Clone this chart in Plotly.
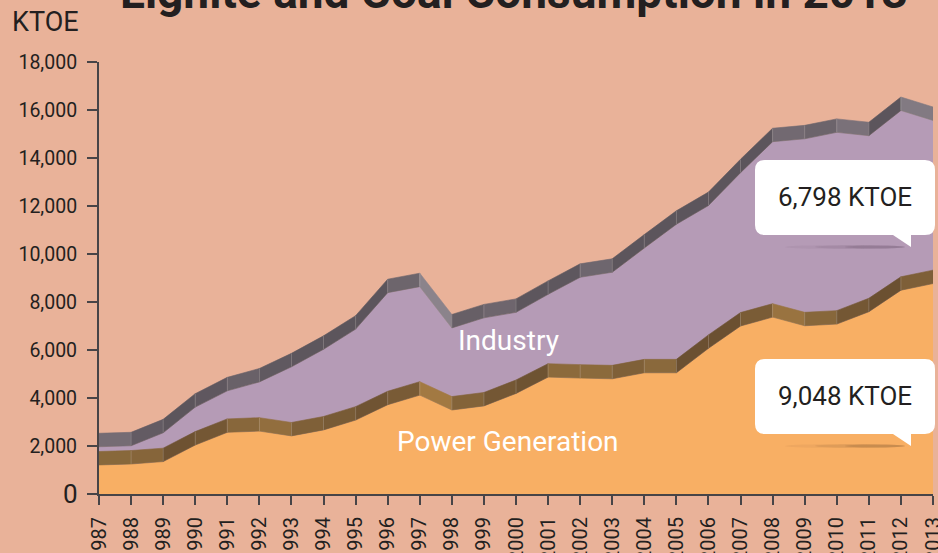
import math
import plotly.graph_objects as go

# ---------------- data ----------------
years = list(range(1987, 2014))
power = [1490, 1530, 1630, 2320, 2850, 2900, 2700, 2950, 3360, 4000, 4400, 3780, 3950,
         4470, 5150, 5110, 5080, 5330, 5330, 6350, 7280, 7650, 7290, 7360, 7875, 8770, 9048]
industry = [760, 760, 1200, 1580, 1730, 2050, 2880, 3360, 3790, 4670, 4520, 3420, 3670,
            3380, 3450, 4200, 4440, 5200, 6190, 5950, 6390, 7310, 7790, 7990, 7335, 7490, 6798]
series_names = ["Power Generation", "Industry"]
y_ticks = [0, 2000, 4000, 6000, 8000, 10000, 12000, 14000, 16000, 18000]
title_text = "Lignite and Coal Consumption in 2013"
unit = "KTOE"

total = [p + i for p, i in zip(power, industry)]

# ---------------- style ----------------
BG = "#E9B299"
ORANGE = "#F8AF64"
PURPLE = "#B59BB6"
AXIS = "#474447"
TXT = "#231F20"
FONT = "Roboto"
H = 280  # half thickness of the 3D ribbon (value units)

PX_X = 834 / 26.0
PX_Y = 432 / 18000.0


def hex2rgb(h):
    h = h.lstrip("#")
    return [int(h[i:i + 2], 16) for i in (0, 2, 4)]


def mix(a, b, t):
    ra, rb = hex2rgb(a), hex2rgb(b)
    return "rgb(%d,%d,%d)" % tuple(round(x + (y - x) * t) for x, y in zip(ra, rb))


def shade(v0, v1, dark, flat, light):
    ang = math.degrees(math.atan2((v1 - v0) * PX_Y, PX_X))
    t = max(-1.0, min(1.0, ang / 30.0))
    if t >= 0:
        return mix(flat, dark, t)
    return mix(flat, light, -t)


fig = go.Figure()

# orange base area
fig.add_trace(go.Scatter(x=years, y=[p - H for p in power], mode="lines",
                         line=dict(width=0, color=ORANGE), fill="tozeroy",
                         fillcolor=ORANGE, hoverinfo="skip", showlegend=False))
# purple area
fig.add_trace(go.Scatter(x=years, y=[t - H for t in total], mode="lines",
                         line=dict(width=0, color=PURPLE), fill="tonexty",
                         fillcolor=PURPLE, hoverinfo="skip", showlegend=False))


def ribbon(vals, dark, flat, light):
    for i in range(len(years) - 1):
        c = shade(vals[i], vals[i + 1], dark, flat, light)
        xs = [years[i], years[i + 1], years[i + 1], years[i], years[i]]
        ys = [vals[i] + H, vals[i + 1] + H, vals[i + 1] - H, vals[i] - H, vals[i] + H]
        fig.add_trace(go.Scatter(x=xs, y=ys, mode="lines", fill="toself",
                                 fillcolor=c, line=dict(width=0.6, color=c),
                                 hoverinfo="skip", showlegend=False))
    # light seams between facets
    sx, sy = [], []
    for i in range(1, len(years) - 1):
        sx += [years[i], years[i], None]
        sy += [vals[i] + H, vals[i] - H, None]
    fig.add_trace(go.Scatter(x=sx, y=sy, mode="lines",
                             line=dict(width=1, color="rgba(255,255,255,0.18)"),
                             hoverinfo="skip", showlegend=False))


ribbon(power, "#6B5031", "#8A693C", "#A77C43")
ribbon(total, "#5C555C", "#766D75", "#8B838B")

# ---------------- annotations ----------------
ann = []
# title (partly cut at the top)
ann.append(dict(text="<b>%s</b>" % title_text, xref="paper", yref="paper",
                x=(514 - 99) / 834, y=(494 - 21) / 432, xanchor="center", yanchor="bottom",
                showarrow=False, font=dict(family=FONT, size=46, color=TXT)))
# unit label
ann.append(dict(text=unit, xref="paper", yref="paper", x=(10 - 99) / 834,
                y=(494 - 22) / 432, xanchor="left", yanchor="middle", showarrow=False,
                font=dict(family=FONT, size=27, color=TXT)))
# bigger zero label
ann.append(dict(text="0", xref="paper", yref="y", x=(80 - 99) / 834, y=0,
                xanchor="right", yanchor="middle", showarrow=False,
                font=dict(family=FONT, size=26, color=TXT)))
# series labels
ann.append(dict(text=series_names[1], xref="paper", yref="paper", x=(508 - 99) / 834,
                y=(494 - 341) / 432, xanchor="center", yanchor="middle", showarrow=False,
                font=dict(family=FONT, size=28, color="white")))
ann.append(dict(text=series_names[0], xref="paper", yref="paper", x=(508 - 99) / 834,
                y=(494 - 441) / 432, xanchor="center", yanchor="middle", showarrow=False,
                font=dict(family=FONT, size=28, color="white")))

shapes = []


def px(xp):
    return (xp - 99) / 834


def py(yp):
    return (494 - yp) / 432


def callout(x0, y0, x1, y1, tail_x0, tail_x1, tail_y, text, shadow_col):
    r = 10
    p = []
    p.append("M %f,%f" % (px(x0 + r), py(y0)))
    p.append("L %f,%f" % (px(x1 - r), py(y0)))
    p.append("Q %f,%f %f,%f" % (px(x1), py(y0), px(x1), py(y0 + r)))
    p.append("L %f,%f" % (px(x1), py(y1 - r)))
    p.append("Q %f,%f %f,%f" % (px(x1), py(y1), px(x1 - r), py(y1)))
    p.append("L %f,%f" % (px(tail_x1), py(y1)))
    p.append("L %f,%f" % (px(tail_x1), py(tail_y)))
    p.append("L %f,%f" % (px(tail_x0), py(y1)))
    p.append("L %f,%f" % (px(x0 + r), py(y1)))
    p.append("Q %f,%f %f,%f" % (px(x0), py(y1), px(x0), py(y1 - r)))
    p.append("L %f,%f" % (px(x0), py(y0 + r)))
    p.append("Q %f,%f %f,%f Z" % (px(x0), py(y0), px(x0 + r), py(y0)))
    # soft shadow
    for w, hgt, op in [(120, 4, 0.06), (90, 3.5, 0.10), (60, 3, 0.16)]:
        shapes.append(dict(type="circle", xref="paper", yref="paper",
                           x0=px(tail_x1 - 6 - w), x1=px(tail_x1 - 6), y0=py(tail_y + hgt / 2),
                           y1=py(tail_y - hgt / 2), fillcolor=shadow_col, opacity=op,
                           line=dict(width=0), layer="above"))
    shapes.append(dict(type="path", xref="paper", yref="paper", path=" ".join(p),
                       fillcolor="white", line=dict(width=0), layer="above"))
    ann.append(dict(text=text, xref="paper", yref="paper", x=px((x0 + x1) / 2),
                    y=py((y0 + y1) / 2 - 1), xanchor="center", yanchor="middle",
                    showarrow=False, font=dict(family=FONT, size=26, color=TXT)))


callout(755, 160, 935, 235, 893, 911, 247, "%s %s" % (format(industry[-1], ","), unit), "#4A3A4A")
callout(755, 359, 935, 434, 893, 911, 446, "%s %s" % (format(power[-1], ","), unit), "#5A3A20")

fig.update_layout(
    width=938, height=553,
    paper_bgcolor=BG, plot_bgcolor=BG,
    margin=dict(l=99, r=5, t=62, b=59, autoexpand=False),
    showlegend=False,
    annotations=ann,
    shapes=shapes,
    font=dict(family=FONT, color=TXT),
    xaxis=dict(range=[1987, 2013], tickmode="array", tickvals=years,
               ticktext=[str(y) for y in years], tickangle=-90, automargin=False,
               ticklabeloverflow="allow", ticklabelstandoff=4,
               ticks="outside", ticklen=9, tickwidth=2, tickcolor=AXIS,
               showline=True, linecolor=AXIS, linewidth=2, showgrid=False,
               zeroline=False, tickfont=dict(family=FONT, size=20, color=TXT)),
    yaxis=dict(range=[0, 18000], tickmode="array", tickvals=y_ticks, automargin=False,
               ticktext=["" if v == 0 else format(v, ",") for v in y_ticks],
               ticks="outside", ticklen=10, tickwidth=2, tickcolor=AXIS,
               showline=True, linecolor=AXIS, linewidth=2, showgrid=False,
               zeroline=False, ticklabelstandoff=6,
               tickfont=dict(family=FONT, size=19.5, color=TXT)),
)

fig.write_html("out.html", config={"displayModeBar": False},
               post_script="document.body.style.margin='0';document.body.style.overflow='hidden';")
